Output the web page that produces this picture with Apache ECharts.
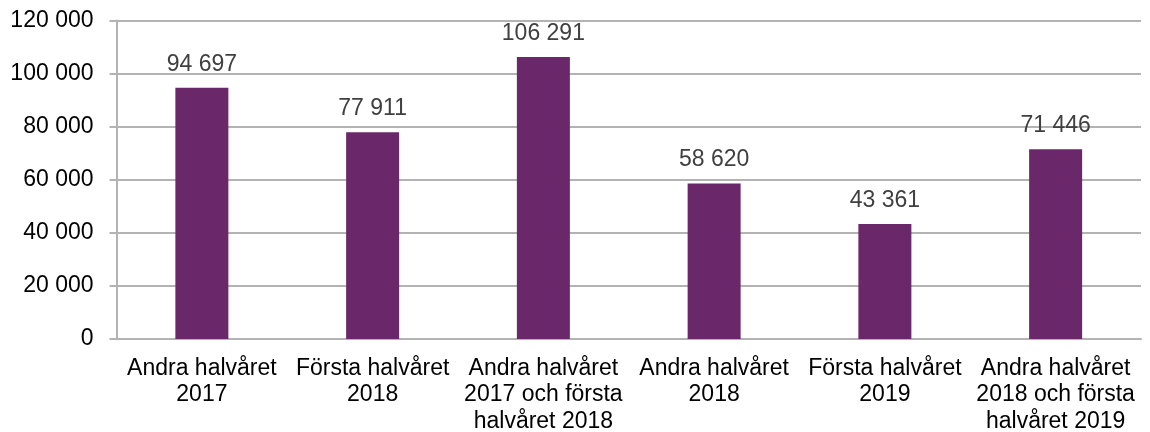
<!DOCTYPE html>
<html><head><meta charset="utf-8">
<script src="https://cdn.jsdelivr.net/npm/echarts@6/dist/echarts.min.js"></script>
<style>html,body{margin:0;padding:0;background:#fff}#c{width:1150px;height:432px}</style>
</head><body><div id="c"></div>
<script>
const categories = [
  "Andra halvåret\n2017",
  "Första halvåret\n2018",
  "Andra halvåret\n2017 och första\nhalvåret 2018",
  "Andra halvåret\n2018",
  "Första halvåret\n2019",
  "Andra halvåret\n2018 och första\nhalvåret 2019"
];
const values = [94697, 77911, 106291, 58620, 43361, 71446];
const yMin = 0, yMax = 120000, yInterval = 20000;

function fmt(v){ return String(Math.round(v)).replace(/\B(?=(\d{3})+(?!\d))/g, ' '); }

const FF = '"Liberation Sans", Arial, sans-serif';
const chart = echarts.init(document.getElementById('c'), null, {renderer:'canvas'});
chart.setOption({
  animation:false,
  textStyle:{fontFamily:FF},
  grid:{left:116.5, right:9, top:20.5, bottom:93, containLabel:false, outerBoundsMode:'none'},
  xAxis:{
    type:'category', data:categories,
    axisLine:{show:true, lineStyle:{color:'#b3b3b3', width:2}},
    axisTick:{show:false},
    axisLabel:{color:'#000', fontSize:23, lineHeight:26.5, margin:16, interval:0, fontFamily:FF}
  },
  yAxis:{
    type:'value', min:yMin, max:yMax, interval:yInterval,
    axisLine:{show:true, lineStyle:{color:'#b3b3b3', width:2}},
    axisTick:{show:true, length:7, lineStyle:{color:'#b3b3b3', width:2}},
    splitLine:{show:true, lineStyle:{color:'#b3b3b3', width:2}},
    axisLabel:{color:'#000', fontSize:23, margin:23, formatter:fmt, fontFamily:FF}
  },
  series:[{
    type:'bar', data:values, barWidth:53,
    itemStyle:{color:'#6A276A'},
    label:{show:true, position:'top', distance:12, color:'#404040', fontSize:23,
      fontFamily:FF, formatter:p=>fmt(p.value)}
  }]
});
</script></body></html>
